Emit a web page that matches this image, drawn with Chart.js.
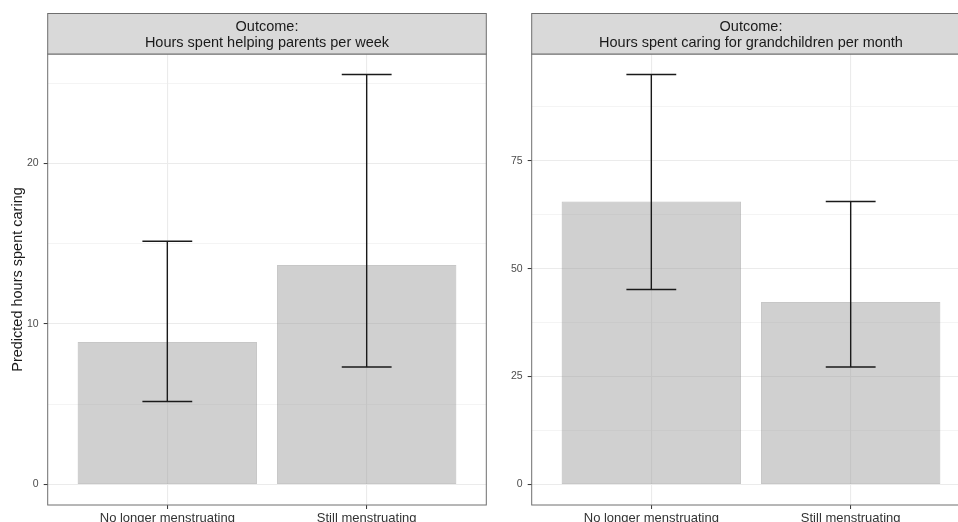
<!DOCTYPE html>
<html>
<head>
<meta charset="utf-8">
<script src="https://cdn.jsdelivr.net/npm/chart.js@4.4.1/dist/chart.umd.min.js"></script>
<style>
  html, body { margin: 0; padding: 0; background: #fff; overflow: hidden; }
  #wrap { position: relative; width: 958px; height: 522px; overflow: hidden; background: #fff; }
  .panel { position: absolute; top: 0; height: 522px; }
  #p1 { left: 0; width: 487px; }
  #p2 { left: 487px; width: 485px; }
</style>
</head>
<body>
<div id="wrap">
  <div class="panel" id="p1"><canvas id="c1"></canvas></div>
  <div class="panel" id="p2"><canvas id="c2"></canvas></div>
</div>
<script>
// ---- data ----
const categories = ['No longer menstruating', 'Still menstruating'];

const parentsTitle = ['Outcome:', 'Hours spent helping parents per week'];
const parentsEst = [8.88, 13.67];
const parentsLo  = [5.17, 7.32];
const parentsHi  = [15.15, 25.54];
const parentsMajorTicks = [0, 10, 20];
const parentsMinorTicks = [5, 15, 25];

const grandTitle = ['Outcome:', 'Hours spent caring for grandchildren per month'];
const grandEst = [65.57, 42.3];
const grandLo  = [45.17, 27.24];
const grandHi  = [95.0, 65.57];
const grandMajorTicks = [0, 25, 50, 75];
const grandMinorTicks = [12.5, 37.5, 62.5, 87.5];

const yTitle = 'Predicted hours spent caring';

const FONT = "'Liberation Sans', Arial, Helvetica, sans-serif";

function stripAndErrorPlugin(title, lo, hi) {
  return {
    id: 'stripErr',
    afterDatasetsDraw(chart) {
      const ctx = chart.ctx;
      const xs = chart.scales.x, ys = chart.scales.y;
      ctx.save();
      ctx.strokeStyle = '#1a1a1a';
      ctx.lineWidth = 1.4;
      const half = xs.getPixelForValue(1.125) - xs.getPixelForValue(1);
      for (let i = 0; i < lo.length; i++) {
        const x = xs.getPixelForValue(i + 1);
        const yl = ys.getPixelForValue(lo[i]);
        const yh = ys.getPixelForValue(hi[i]);
        ctx.beginPath();
        ctx.moveTo(x, yl); ctx.lineTo(x, yh);
        ctx.moveTo(x - half, yl); ctx.lineTo(x + half, yl);
        ctx.moveTo(x - half, yh); ctx.lineTo(x + half, yh);
        ctx.stroke();
      }
      ctx.restore();
    },
    afterDraw(chart) {
      const ctx = chart.ctx;
      const a = chart.chartArea;
      ctx.save();
      // panel border
      ctx.strokeStyle = '#6e6e6e';
      ctx.lineWidth = 1;
      ctx.strokeRect(a.left, a.top, a.right - a.left, a.bottom - a.top);
      // strip
      const sTop = 13.5;
      ctx.fillStyle = '#d9d9d9';
      ctx.fillRect(a.left, sTop, a.right - a.left, a.top - sTop);
      ctx.strokeRect(a.left, sTop, a.right - a.left, a.top - sTop);
      ctx.fillStyle = '#1a1a1a';
      ctx.font = '14.5px ' + FONT;
      ctx.textAlign = 'center';
      ctx.textBaseline = 'middle';
      const cx = (a.left + a.right) / 2;
      ctx.fillText(title[0], cx, 26.7);
      ctx.fillText(title[1], cx, 42.7);
      ctx.restore();
    }
  };
}

function expandRange(lo, hi) {
  const mn = Math.min(0, ...lo);
  const mx = Math.max(...hi);
  const e = (mx - mn) * 0.05;
  return [mn - e, mx + e];
}

function makeChart(id, est, lo, hi, major, minor, title, yAxisWidth, padRight, showTitle) {
  const [ymin, ymax] = expandRange(lo, hi);
  const isMajor = v => major.includes(v);
  return new Chart(document.getElementById(id), {
    type: 'bar',
    data: {
      datasets: [{
        data: est.map((v, i) => ({ x: i + 1, y: v })),
        backgroundColor: 'rgba(150,150,150,0.45)',
        borderColor: 'rgba(130,130,130,0.45)',
        borderWidth: 1,
        borderSkipped: false,
        categoryPercentage: 0.9,
        barPercentage: 1.0
      }]
    },
    options: {
      responsive: true,
      maintainAspectRatio: false,
      animation: false,
      events: [],
      layout: { padding: { top: 54, right: padRight, left: 0, bottom: 0 } },
      plugins: { legend: { display: false }, tooltip: { enabled: false }, title: { display: false } },
      scales: {
        x: {
          type: 'linear',
          min: 0.4, max: 2.6,
          offset: false,
          afterBuildTicks(s) { s.ticks = categories.map((c, i) => ({ value: i + 1 })); },
          afterFit(s) { s.height = 17; },
          ticks: {
            callback: v => categories[v - 1],
            color: '#333333',
            font: { family: FONT, size: 13 },
            padding: 1.5,
            maxRotation: 0,
            autoSkip: false
          },
          grid: {
            offset: false,
            color: '#ebebeb',
            lineWidth: 1.1,
            drawTicks: true,
            tickLength: 4,
            tickColor: '#333333',
            tickWidth: 1
          },
          border: { display: false }
        },
        y: {
          type: 'linear',
          min: ymin, max: ymax,
          afterBuildTicks(s) { s.ticks = major.concat(minor).sort((a, b) => a - b).map(v => ({ value: v })); },
          afterFit(s) { s.width = yAxisWidth; },
          ticks: {
            callback: v => isMajor(v) ? String(v) : '',
            color: '#4d4d4d',
            font: { family: FONT, size: 10.5 },
            padding: 5,
            autoSkip: false
          },
          grid: {
            color: '#ebebeb',
            lineWidth: c => (c.tick && isMajor(c.tick.value)) ? 1.1 : 0.55,
            drawTicks: true,
            tickLength: 4,
            tickColor: c => (c.tick && isMajor(c.tick.value)) ? '#333333' : 'rgba(0,0,0,0)',
            tickWidth: 1
          },
          border: { display: false },
          title: {
            display: showTitle,
            text: yTitle,
            color: '#1a1a1a',
            font: { family: FONT, size: 14.5 },
            padding: { top: 9, bottom: 0 }
          }
        }
      }
    },
    plugins: [stripAndErrorPlugin(title, lo, hi)]
  });
}

makeChart('c1', parentsEst, parentsLo, parentsHi, parentsMajorTicks, parentsMinorTicks, parentsTitle, 47.7, 0.7, true);
makeChart('c2', grandEst, grandLo, grandHi, grandMajorTicks, grandMinorTicks, grandTitle, 44.7, 1.7, false);
</script>
</body>
</html>
